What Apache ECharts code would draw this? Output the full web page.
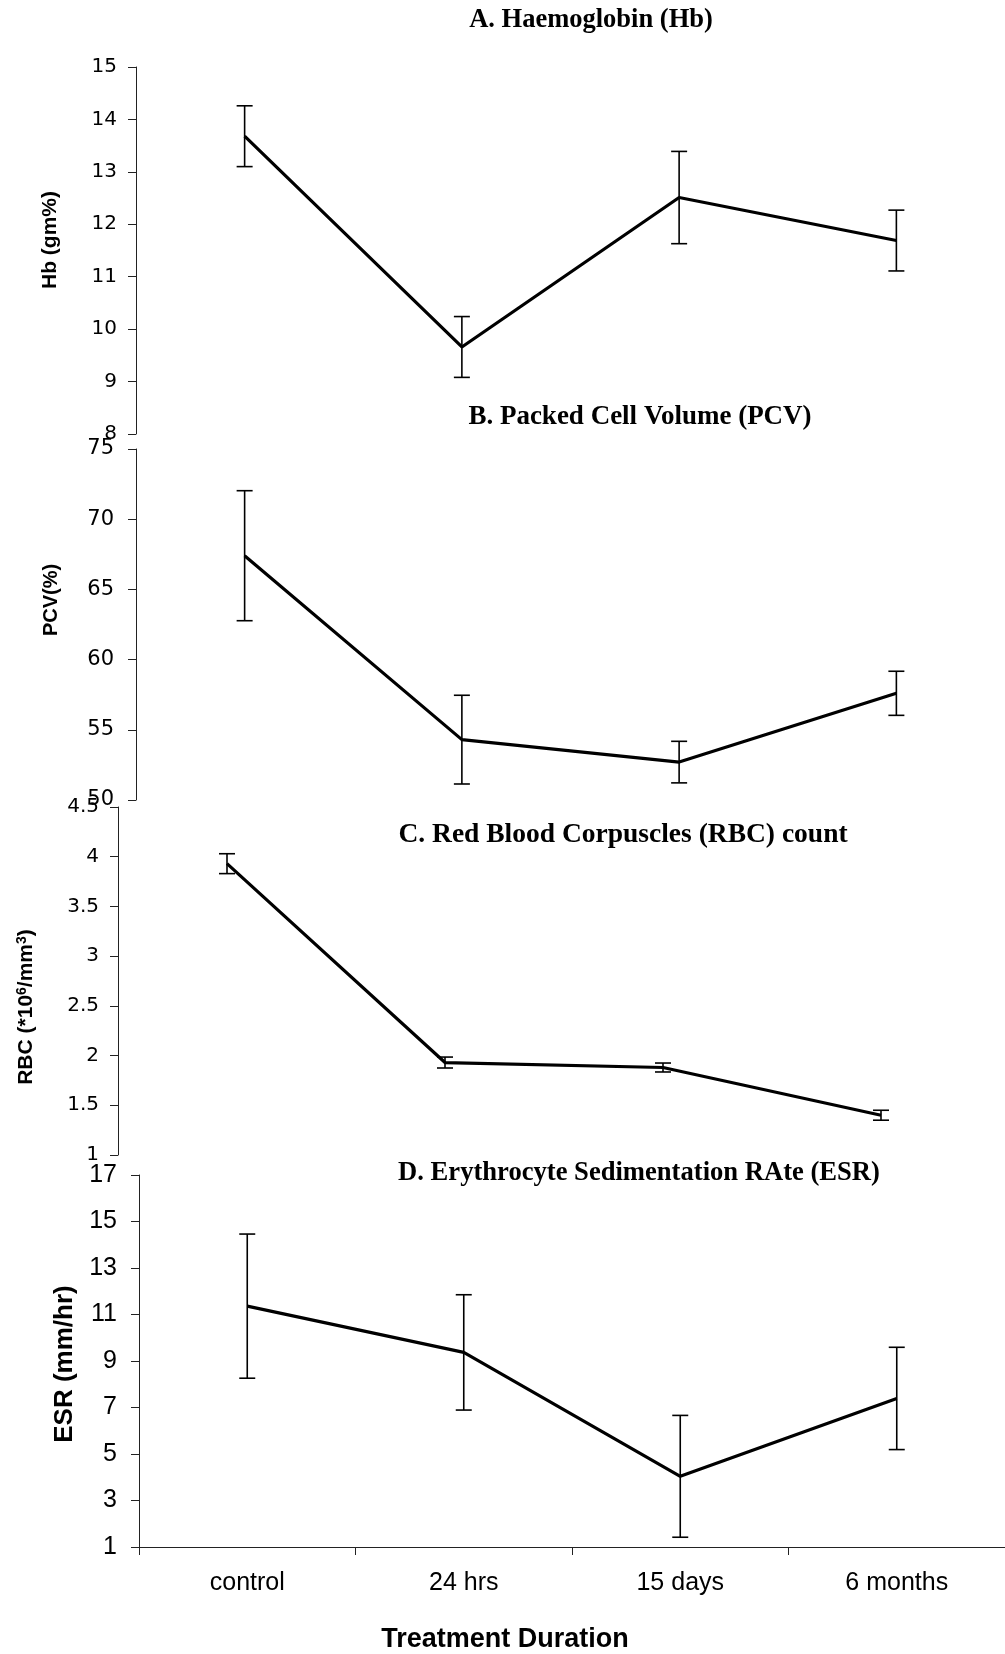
<!DOCTYPE html>
<html lang="en">
<head>
    <meta charset="UTF-8">
    <title>Haematology</title>
    <script src="https://cdn.jsdelivr.net/npm/echarts@6/dist/echarts.min.js"></script>
    <style>
        body { margin: 0; background: #fff; }
    </style>
</head>
<body>
<div id="main" style="width: 1005px;height:1654px;"></div>

<script type="text/javascript">
    // treatment groups
    var categories = ['control', '24 hrs', '15 days', '6 months'];

    // mean and error (+/-) per panel
    var hbMean = [13.68, 9.66, 12.51, 11.69];
    var hbErr = [0.58, 0.58, 0.88, 0.58];
    var pcvMean = [67.4, 54.3, 52.7, 57.6];
    var pcvErr = [4.63, 3.16, 1.48, 1.57];
    var rbcMean = [3.93, 1.93, 1.88, 1.40];
    var rbcErr = [0.10, 0.055, 0.045, 0.05];
    var esrMean = [11.36, 9.37, 4.04, 7.39];
    var esrErr = [3.1, 2.48, 2.62, 2.2];

    var myChart = echarts.init(document.getElementById('main'));

    function errData(mean, err) {
        return categories.map(function (c, i) { return [i, mean[i], err[i]]; });
    }

    // vertical error bar with caps
    function errRender(params, api) {
        var x = api.value(0), v = api.value(1), e = api.value(2);
        var hi = api.coord([x, v + e]);
        var lo = api.coord([x, v - e]);
        var w = 8;
        var st = { stroke: '#000', lineWidth: 1.6 };
        return {
            type: 'group',
            children: [
                { type: 'line', shape: { x1: hi[0], y1: hi[1], x2: lo[0], y2: lo[1] }, style: st },
                { type: 'line', shape: { x1: hi[0] - w, y1: hi[1], x2: hi[0] + w, y2: hi[1] }, style: st },
                { type: 'line', shape: { x1: lo[0] - w, y1: lo[1], x2: lo[0] + w, y2: lo[1] }, style: st }
            ]
        };
    }

    function yAxis(idx, min, max, interval, font, size, margin) {
        return {
            gridIndex: idx, type: 'value', min: min, max: max, interval: interval,
            splitLine: { show: false },
            axisLine: { show: true, lineStyle: { color: '#222', width: 1 } },
            axisTick: { show: true, length: 8, lineStyle: { color: '#222' } },
            axisLabel: { color: '#000', fontFamily: font, fontSize: size, margin: margin }
        };
    }

    function xAxis(idx, visible) {
        return {
            gridIndex: idx, type: 'category', data: categories, boundaryGap: true,
            show: visible,
            axisLine: { show: true, lineStyle: { color: '#222', width: 1 } },
            axisTick: { show: true, length: 8, lineStyle: { color: '#222' } },
            axisLabel: { color: '#000', fontFamily: 'Liberation Sans', fontSize: 25, margin: 24 }
        };
    }

    function lineSeries(idx, data) {
        return {
            type: 'line', xAxisIndex: idx, yAxisIndex: idx, data: data,
            showSymbol: false, symbol: 'none',
            lineStyle: { color: '#000', width: 3.2 }
        };
    }

    function errSeries(idx, mean, err) {
        return {
            type: 'custom', xAxisIndex: idx, yAxisIndex: idx,
            data: errData(mean, err), encode: { x: 0, y: 1 },
            renderItem: errRender, z: 3
        };
    }

    function titleFont(size) {
        return 'bold ' + size + 'px "Liberation Serif", "Times New Roman", serif';
    }

    function label(text, x, y, font, rotate, rich) {
        var el = {
            type: 'text', x: x, y: y, rotation: rotate ? Math.PI / 2 : 0,
            style: { text: text, font: font, fill: '#000', align: 'center', verticalAlign: 'middle' }
        };
        if (rich) el.style.rich = rich;
        return el;
    }

    var option = {
        animation: false,
        backgroundColor: '#fff',
        grid: [
            { left: 136, top: 67, width: 872, height: 367 },
            { left: 136, top: 449, width: 872, height: 351 },
            { left: 118, top: 807, width: 872, height: 348 },
            { left: 139, top: 1175, width: 872, height: 372 }
        ],
        xAxis: [xAxis(0, false), xAxis(1, false), xAxis(2, false), xAxis(3, true)],
        yAxis: [
            yAxis(0, 8, 15, 1, 'DejaVu Sans', 20, 19),
            yAxis(1, 50, 75, 5, 'DejaVu Sans', 21, 22),
            yAxis(2, 1, 4.5, 0.5, 'DejaVu Sans', 20, 19),
            yAxis(3, 1, 17, 2, 'Liberation Sans', 25, 22)
        ],
        graphic: [
            label('A. Haemoglobin (Hb)', 591, 20, titleFont(26.5)),
            label('B. Packed Cell Volume (PCV)', 640, 417, titleFont(27)),
            label('C. Red Blood Corpuscles (RBC) count', 623, 835, titleFont(27.5)),
            label('D. Erythrocyte Sedimentation RAte (ESR)', 639, 1173, titleFont(26.6)),
            label('Hb (gm%)', 50, 240, 'bold 21px "Liberation Sans", Arial', true),
            label('PCV(%)', 51, 600, 'bold 20px "Liberation Sans", Arial', true),
            label('RBC (*10{s|6}/mm{s|3})', 26, 1007, 'bold 21px "Liberation Sans", Arial', true, {
                s: { fontSize: 14, fontWeight: 'bold', fontFamily: 'Liberation Sans', verticalAlign: 'top', lineHeight: 21 }
            }),
            label('ESR (mm/hr)', 65, 1364, 'bold 26px "Liberation Sans", Arial', true),
            label('Treatment Duration', 505, 1640, 'bold 27px "Liberation Sans", Arial')
        ],
        series: [
            lineSeries(0, hbMean), errSeries(0, hbMean, hbErr),
            lineSeries(1, pcvMean), errSeries(1, pcvMean, pcvErr),
            lineSeries(2, rbcMean), errSeries(2, rbcMean, rbcErr),
            lineSeries(3, esrMean), errSeries(3, esrMean, esrErr)
        ]
    };

    myChart.setOption(option);
</script>
</body>
</html>
